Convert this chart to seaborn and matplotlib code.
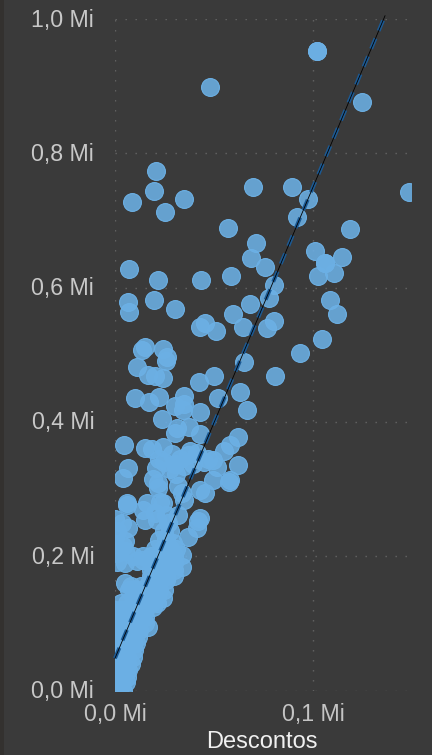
import matplotlib
matplotlib.use('Agg')
import matplotlib.pyplot as plt
import pandas as pd
import seaborn as sns
from matplotlib.patches import Rectangle
from matplotlib.transforms import ScaledTranslation

# valores em milhares
cima_x = [
    101.9, 101.9, 48, 124.9, 20.5, 19.7, 8.6, 25.4, 34.7, 69.9, 89.2, 97.5, 92, 148.6, 57.2, 118.8, 71.2, 100.9, 114.5,
    68.8, 75.8, 106, 106, 102.5, 110.8, 7.2, 21.7, 43.4, 58.6, 80.3, 77.9, 6.7, 7.2, 19.9, 30.2, 68.3, 59.6, 64.6,
    108.4, 112.1, 80.5, 76.6, 45.5, 43.1, 50.9, 104.5, 93.4, 80.8, 65, 15.2, 13.5, 24.1, 26.1, 25.9, 11.1, 16.8, 20.2,
    24.4, 50, 42.6, 10.1, 17.2, 22.4, 35, 30.5, 34.8, 34.2, 42.9, 52.2, 63.3, 66.5, 23.9, 31.5, 37.2, 30.3, 43.1, 62.3,
    58.2, 55.2, 4.7, 15.2, 18.5, 24.4, 28.6, 37.9, 41.3, 49.6, 30.3, 39.5, 51.4, 62.3, 20.7, 6.7, 4.2, 30.7, 49.6,
    58, 57.4, 19, 21.9, 21.9, 31.7, 33.7, 42.9, 45.5, 6.2, 16, 22.7,
    22, 25, 28, 33, 35, 37, 45, 47,
]
cima_y = [
    952, 952, 899, 876, 773, 744, 728, 713, 732, 750, 750, 732, 705, 743, 689, 687, 667, 654, 646,
    644, 631, 637, 637, 617, 621, 627, 611, 611, 617, 604, 584, 578, 563, 581, 568, 576, 561, 541,
    581, 561, 550, 540, 547, 542, 536, 524, 502, 468, 489, 511, 507, 508, 497, 490, 482, 470, 469,
    465, 469, 460, 435, 429, 437, 439, 423, 427, 418, 415, 435, 445, 417, 404, 391, 392, 383, 382, 377,
    366, 357, 365, 361, 360, 362, 352, 357, 353, 344, 338, 338, 333, 336, 331, 331, 316, 323, 314,
    314, 310, 315, 309, 301, 304, 294, 299, 294, 279, 279, 281,
    345, 340, 330, 345, 335, 350, 340, 345,
]
base_x = [
    0, 2, 4,
    0, 3, 5.5,
    0, 3, 6,
    0, 3, 6.5,
    0, 3, 6, 8,
    0, 3, 6, 9,
    0, 3, 6, 9.6,
    0, 3, 6, 9, 10.6,
    0, 3, 6, 9, 11.5,
    0, 3, 6, 9, 12, 16.8,
    0, 3, 6, 9, 12, 15,
    0, 3, 6, 9, 12, 15,
    0, 3, 6, 9, 12, 15, 19.3,
    3, 6, 9, 12, 15, 18, 21,
    9, 12, 15, 18, 21, 24.4,
    7, 10, 13, 16, 19, 22, 25,
    5, 8, 13, 17, 21, 26,
    18, 22, 26, 30,
    18, 22, 26, 30, 33.7,
    1, 5, 11, 14.3, 18, 22, 26, 30,
    1, 5, 9, 14, 18, 22, 26, 30, 33.7,
    0, 4, 20, 24, 28, 31,
    0, 5, 22, 26, 29.5,
    1, 6.6, 25, 28, 37,
    0, 3.4, 15, 21, 27, 41.3, 42,
    14, 20, 26, 32, 42.9,
    5.9, 24, 35,
]
base_y = [
    0, 0, 0,
    10, 10, 12,
    20, 20, 20,
    30, 30, 30,
    40, 40, 40, 40,
    50, 50, 50, 50,
    60, 60, 60, 60,
    70, 70, 70, 70, 70,
    80, 80, 80, 80, 80,
    90, 90, 90, 90, 90, 95,
    100, 100, 100, 100, 100, 100,
    110, 110, 110, 110, 110, 110,
    120, 120, 120, 120, 120, 120, 125,
    130, 130, 130, 130, 130, 130, 130,
    140, 140, 140, 140, 140, 138,
    150, 150, 150, 150, 150, 150, 150,
    160, 155, 155, 160, 160, 165,
    170, 170, 170, 170,
    180, 180, 180, 180, 184.5,
    192, 190, 193, 194, 190, 190, 190, 190,
    205, 207, 200, 200, 200, 200, 200, 200, 202,
    218, 215, 210, 210, 210, 210,
    228, 222, 224, 225, 220,
    238, 242, 238, 238, 229,
    255, 250, 254, 254, 250, 242, 252,
    269, 265, 262, 262, 257,
    276, 279, 284,
]
# linha de tendencia
trend_x = [0, 136.4]
trend_y = [48, 1005]

x_ticks = [0, 100]
x_labels = ['0,0 Mi', '0,1 Mi']
y_ticks = [0, 200, 400, 600, 800, 1000]
y_labels = ['0,0 Mi', '0,2 Mi', '0,4 Mi', '0,6 Mi', '0,8 Mi', '1,0 Mi']

assert len(cima_x) == len(cima_y) and len(base_x) == len(base_y)
df = pd.DataFrame({'Descontos': base_x + cima_x, 'Total': base_y + cima_y})

sns.set_style('dark')
plt.rcParams['font.family'] = ['Liberation Sans', 'DejaVu Sans']

bg = '#3a3a3a'
fig = plt.figure(figsize=(4.32, 7.55), dpi=100, facecolor=bg)
ax = fig.add_axes([115 / 432, 64.5 / 755, 296 / 432, 671.5 / 755], facecolor=bg)
fig.add_artist(Rectangle((0, 0), 4 / 432, 1, transform=fig.transFigure, color='#33312f', lw=0))

sns.scatterplot(data=df, x='Descontos', y='Total', ax=ax, s=165, color='#6cb0e5',
                edgecolor='#6cb0e5', linewidth=0.8, zorder=3)
ax.collections[0].set_facecolor((0.424, 0.69, 0.898, 0.88))

sns.lineplot(x=trend_x, y=trend_y, ax=ax, color='#1c5a94', linewidth=2.8, linestyle=(0, (2.9, 2.1)), zorder=4)
sns.lineplot(x=trend_x, y=trend_y, ax=ax, color='black', linewidth=0.6, zorder=5)
for line in ax.lines:
    line.set_clip_on(False)

ax.set_xlim(0, 149.5)
ax.set_ylim(0, 1000)
ax.set_xticks(x_ticks, x_labels)
ax.set_yticks(y_ticks, y_labels)
ax.tick_params(axis='x', length=0, pad=9, labelsize=16.7, labelcolor='#c4c4c4')
ax.tick_params(axis='y', length=0, pad=15, labelsize=16.7, labelcolor='#c8c8c8')
# rotulos do eixo y um pouco acima da grade
for label in ax.get_yticklabels():
    label.set_transform(label.get_transform() + ScaledTranslation(0, 1.5 / 100, fig.dpi_scale_trans))
ax.grid(True, color='#646464', linewidth=1, linestyle=(0, (1, 6.2)), zorder=1)
ax.set_axisbelow(True)
sns.despine(ax=ax, left=True, bottom=True)

ax.set_xlabel('Descontos', fontsize=17, color='#f0f0f0', va='center')
ax.xaxis.set_label_coords((262 - 115) / 296, -52 / 671.5, transform=ax.transAxes)
ax.set_ylabel('')

fig.savefig('out.png', dpi=100, facecolor=bg)
